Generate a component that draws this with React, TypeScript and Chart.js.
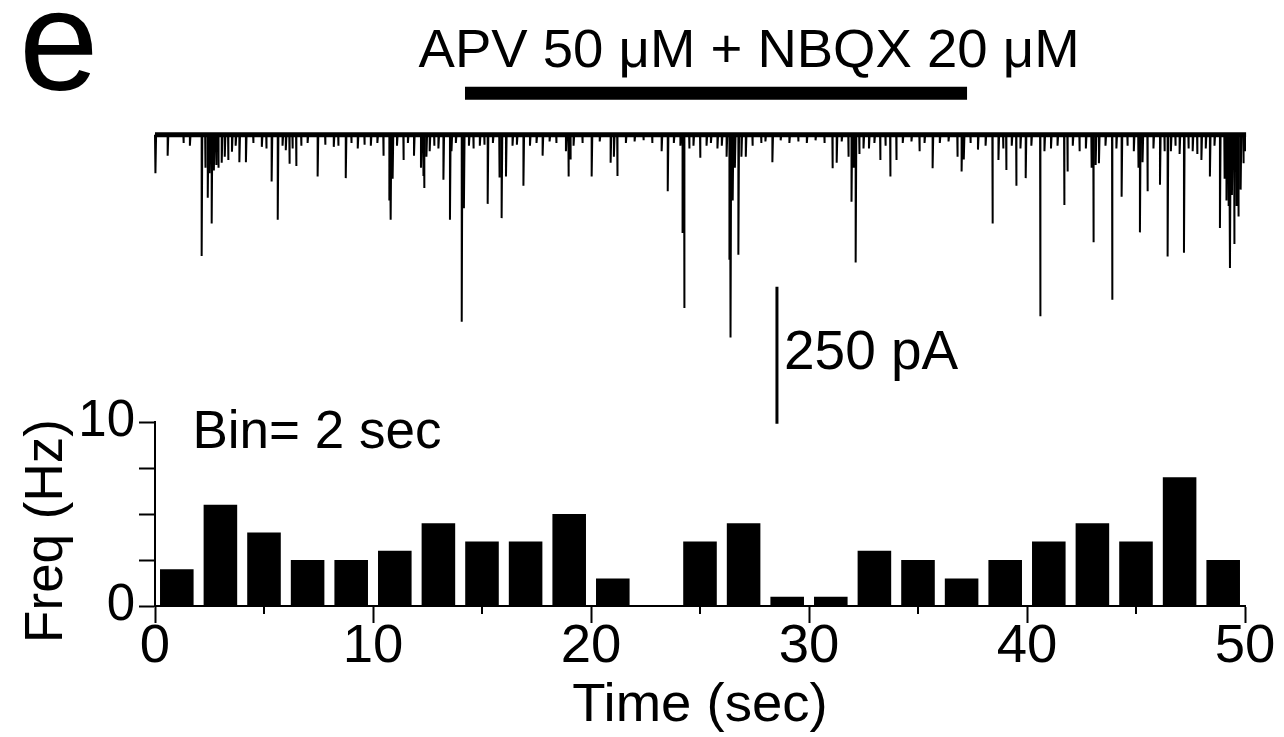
import React, { useEffect, useRef } from 'react';
import { Chart, registerables } from 'chart.js';

Chart.register(...registerables);

const FONT = '"Liberation Sans", Arial, Helvetica, sans-serif';

// ---------- Histogram (Bin = 2 sec) ----------
const BIN_CENTERS = [1, 3, 5, 7, 9, 11, 13, 15, 17, 19, 21, 23, 25, 27, 29, 31, 33, 35, 37, 39, 41, 43, 45, 47, 49];
const FREQ_HZ = [2, 5.5, 4, 2.5, 2.5, 3, 4.5, 3.5, 3.5, 5, 1.5, 0, 3.5, 4.5, 0.5, 0.5, 3, 2.5, 1.5, 2.5, 3.5, 4.5, 3.5, 7, 2.5];

// ---------- Axes ----------
const X_MIN = 0;
const X_MAX = 50;
const X_STEP = 5;
const X_LABELLED = [0, 10, 20, 30, 40, 50];
const X_MINOR_TICKS = [5, 15, 25, 35, 45];
const Y_MIN = 0;
const Y_MAX = 10;
const Y_STEP = 2.5;
const Y_LABELLED = [0, 10];

// ---------- Current trace: synaptic events (time in s, amplitude in pA, inward = down) ----------
const EVENT_TIMES = [
  0.02, 0.58, 1.3, 1.6, 2.14, 2.3, 2.42, 2.5, 2.6, 2.7, 2.8, 2.9, 3.06, 3.2, 3.35, 3.53, 3.7, 3.87, 4.17, 4.5,
  4.9, 5.1, 5.35, 5.63, 5.85, 6.0, 6.16, 6.3, 6.47, 6.7, 7.0, 7.46, 7.8, 8.2, 8.4, 8.75, 9.0, 9.3, 9.6, 9.9,
  10.2, 10.47, 10.75, 10.81, 10.9, 11.1, 11.39, 11.6, 11.88, 12.2, 12.3, 12.34, 12.45, 12.6, 12.8, 13.0, 13.23, 13.53, 13.6, 13.8,
  14.07, 14.17, 14.4, 14.6, 14.9, 15.1, 15.26, 15.5, 15.79, 15.9, 16.1, 16.4, 16.6, 16.9, 17.2, 17.5, 17.78, 18.1, 18.4, 18.85,
  18.96, 19.05, 19.2, 19.6, 20.03, 20.4, 20.9, 21.05, 21.2, 21.6, 22.0, 22.4, 22.8, 23.24, 23.52, 23.8, 24.1, 24.2, 24.27, 24.5,
  24.7, 25.0, 25.3, 25.5, 25.8, 26.0, 26.22, 26.35, 26.4, 26.5, 26.6, 26.76, 26.9, 27.1, 27.4, 27.8, 28.0, 28.32, 28.7, 29.1,
  29.5, 29.9, 30.3, 30.7, 31.07, 31.27, 31.5, 31.8, 31.95, 32.05, 32.14, 32.3, 32.5, 32.75, 33.0, 33.26, 33.5, 33.72, 34.0, 34.3,
  34.7, 35.06, 35.3, 35.67, 36.0, 36.4, 36.8, 37.0, 37.1, 37.4, 37.75, 38.1, 38.41, 38.69, 38.9, 39.04, 39.3, 39.5, 39.7, 39.94,
  40.2, 40.6, 40.8, 41.1, 41.4, 41.7, 41.85, 42.1, 42.4, 42.7, 42.95, 43.04, 43.15, 43.3, 43.6, 43.9, 44.1, 44.34, 44.6, 44.9,
  45.1, 45.18, 45.3, 45.52, 45.8, 46.1, 46.3, 46.45, 46.6, 46.8, 47.0, 47.2, 47.4, 47.6, 47.8, 48.0, 48.2, 48.39, 48.6, 48.85,
  49.05, 49.15, 49.25, 49.31, 49.4, 49.5, 49.6, 49.69, 49.8, 49.92, 50.0,
];
const EVENT_AMPS = [
  70, 38, 15, 20, 221, 60, 115, 70, 162, 65, 55, 60, 51, 40, 46, 31, 20, 50, 50, 15,
  22, 25, 85, 155, 20, 28, 53, 25, 57, 20, 15, 76, 18, 22, 20, 79, 15, 25, 18, 20,
  15, 38, 120, 155, 80, 20, 46, 15, 38, 60, 75, 97, 40, 30, 20, 25, 82, 155, 30, 15,
  341, 134, 20, 25, 20, 18, 126, 15, 78, 152, 76, 20, 18, 93, 20, 15, 38, 12, 15, 30,
  76, 45, 20, 15, 76, 12, 51, 40, 75, 15, 12, 10, 15, 30, 103, 15, 20, 179, 316, 25,
  20, 42, 20, 15, 25, 20, 40, 228, 370, 120, 60, 219, 40, 40, 20, 15, 12, 50, 10, 15,
  12, 15, 10, 15, 61, 51, 12, 40, 122, 60, 233, 35, 25, 25, 15, 46, 20, 76, 46, 15,
  12, 30, 15, 61, 15, 12, 40, 67, 45, 15, 27, 20, 162, 46, 25, 64, 20, 93, 25, 79,
  20, 331, 30, 25, 20, 128, 67, 20, 30, 25, 60, 196, 55, 52, 20, 301, 25, 113, 20, 30,
  60, 178, 50, 103, 25, 91, 30, 222, 30, 20, 35, 215, 25, 30, 35, 46, 25, 76, 20, 170,
  80, 120, 130, 243, 110, 199, 130, 149, 100, 52, 30,
];
const EVENT_DECAY_S = 0.03;
const TRACE_START = 0;
const TRACE_END = 50.05;

// ---------- Annotations ----------
const PANEL_LETTER = 'e';
const DRUG_LABEL = 'APV 50 \u03bcM + NBQX 20 \u03bcM';
const DRUG_START = 14.22;
const DRUG_END = 37.25;
const DRUG_LEVEL = 76; // pA, above baseline
const DRUG_LABEL_T = 27.25;
const DRUG_LABEL_LEVEL = 124;
const SCALE_BAR_T = 28.53;
const SCALE_BAR_TOP = -277;
const SCALE_BAR_PA = 250;
const SCALE_LABEL_LEVEL = -427;
const BIN_LABEL = 'Bin= 2 sec';
const BIN_LABEL_T = 1.72;
const BIN_LABEL_HZ = 8.6;
const X_TITLE = 'Time (sec)';
const Y_TITLE = 'Freq (Hz)';

function buildTrace() {
  const pts: { x: number; y: number }[] = [{ x: TRACE_START, y: 0 }];
  for (let i = 0; i < EVENT_TIMES.length; i++) {
    const t = EVENT_TIMES[i];
    pts.push({ x: t, y: 0 }, { x: t, y: -EVENT_AMPS[i] }, { x: t + EVENT_DECAY_S, y: 0 });
  }
  pts.push({ x: TRACE_END, y: 0 });
  return pts;
}

const textPlugin = {
  id: 'panelText',
  afterDraw(chart: any) {
    const { ctx, scales } = chart;
    const x = scales.x;
    const y = scales.y;
    const yT = scales.yT;
    ctx.save();
    ctx.fillStyle = '#000';
    ctx.strokeStyle = '#000';
    // minor ticks on the time axis
    ctx.lineWidth = 2;
    for (const v of X_MINOR_TICKS) {
      const px = Math.round(x.getPixelForValue(v));
      ctx.beginPath();
      ctx.moveTo(px, x.top);
      ctx.lineTo(px, x.top + 8);
      ctx.stroke();
    }
    // panel letter
    ctx.textBaseline = 'alphabetic';
    ctx.textAlign = 'left';
    ctx.font = `143px ${FONT}`;
    ctx.fillText(PANEL_LETTER, 19, 90);
    // drug label
    ctx.font = `54.5px ${FONT}`;
    ctx.textAlign = 'center';
    ctx.fillText(DRUG_LABEL, x.getPixelForValue(DRUG_LABEL_T), yT.getPixelForValue(DRUG_LABEL_LEVEL));
    // scale bar label
    ctx.textAlign = 'left';
    ctx.font = `55px ${FONT}`;
    ctx.fillText(`${SCALE_BAR_PA} pA`, x.getPixelForValue(SCALE_BAR_T) + 7, yT.getPixelForValue(SCALE_LABEL_LEVEL));
    // bin label
    ctx.font = `53px ${FONT}`;
    ctx.fillText(BIN_LABEL, x.getPixelForValue(BIN_LABEL_T), y.getPixelForValue(BIN_LABEL_HZ));
    // y title
    ctx.translate(47.5, (y.top + y.bottom) / 2 + 17);
    ctx.rotate(-Math.PI / 2);
    ctx.textAlign = 'center';
    ctx.textBaseline = 'middle';
    ctx.font = `53px ${FONT}`;
    ctx.fillText(Y_TITLE, 0, 0);
    ctx.restore();
  },
};

export default function App() {
  const ref = useRef<HTMLCanvasElement | null>(null);

  useEffect(() => {
    if (!ref.current) return;
    Chart.defaults.font.family = FONT;
    Chart.defaults.color = '#000';

    const chart = new Chart(ref.current, {
      type: 'bar',
      data: {
        datasets: [
          {
            type: 'bar',
            label: 'Freq',
            data: BIN_CENTERS.map((c, i) => ({ x: c, y: FREQ_HZ[i] })),
            backgroundColor: '#000',
            borderWidth: 0,
            categoryPercentage: 0.77,
            barPercentage: 1,
            xAxisID: 'x',
            yAxisID: 'y',
          } as any,
          {
            type: 'line',
            label: 'trace',
            data: buildTrace(),
            borderColor: '#000',
            borderWidth: 2,
            borderJoinStyle: 'bevel',
            pointRadius: 0,
            tension: 0,
            fill: false,
            clip: false,
            xAxisID: 'x',
            yAxisID: 'yT',
          } as any,
          {
            type: 'line',
            label: 'baseline',
            data: [{ x: TRACE_START, y: 0 }, { x: TRACE_END, y: 0 }],
            borderColor: '#000',
            borderWidth: 5,
            pointRadius: 0,
            fill: false,
            clip: false,
            xAxisID: 'x',
            yAxisID: 'yT',
          } as any,
          {
            type: 'line',
            label: 'drug',
            data: [{ x: DRUG_START, y: DRUG_LEVEL }, { x: DRUG_END, y: DRUG_LEVEL }],
            borderColor: '#000',
            borderWidth: 13,
            borderCapStyle: 'butt',
            pointRadius: 0,
            fill: false,
            clip: false,
            xAxisID: 'x',
            yAxisID: 'yT',
          } as any,
          {
            type: 'line',
            label: 'scale',
            data: [{ x: SCALE_BAR_T, y: SCALE_BAR_TOP }, { x: SCALE_BAR_T, y: SCALE_BAR_TOP - SCALE_BAR_PA }],
            borderColor: '#000',
            borderWidth: 3,
            borderCapStyle: 'butt',
            pointRadius: 0,
            fill: false,
            clip: false,
            xAxisID: 'x',
            yAxisID: 'yT',
          } as any,
        ],
      },
      options: {
        responsive: false,
        maintainAspectRatio: false,
        devicePixelRatio: 1,
        animation: false,
        events: [],
        layout: { padding: { top: 40, left: 0, right: 39, bottom: 0 } },
        plugins: { legend: { display: false }, tooltip: { enabled: false }, title: { display: false } },
        scales: {
          x: {
            type: 'linear',
            position: 'bottom',
            min: X_MIN,
            max: X_MAX,
            offset: false,
            afterFit: (s: any) => {
              s.height = 131;
            },
            grid: {
              offset: false,
              drawOnChartArea: false,
              drawTicks: true,
              tickLength: 17,
              tickWidth: 2,
              tickColor: (c: any) => (c.tick && X_LABELLED.includes(c.tick.value) ? '#000' : 'rgba(0,0,0,0)'),
            },
            border: { display: true, color: '#000', width: 2 },
            ticks: {
              stepSize: X_STEP,
              autoSkip: false,
              maxRotation: 0,
              minRotation: 0,
              padding: 2,
              color: '#000',
              font: { size: 54.5, family: FONT, lineHeight: 0.8 },
              callback: (v: any) => (X_LABELLED.includes(Number(v)) ? String(v) : ''),
            },
            title: {
              display: true,
              text: X_TITLE,
              color: '#000',
              font: { size: 54.5, family: FONT, lineHeight: 1 },
              padding: { top: 0, bottom: 4 },
            },
          },
          y: {
            type: 'linear',
            position: 'left',
            stack: 'panel',
            stackWeight: 184,
            min: Y_MIN,
            max: Y_MAX,
            afterFit: (s: any) => {
              s.width = 155;
            },
            grid: {
              drawOnChartArea: false,
              drawTicks: true,
              tickLength: 16,
              tickWidth: 2,
              tickColor: '#000',
            },
            border: { display: true, color: '#000', width: 2 },
            ticks: {
              stepSize: Y_STEP,
              autoSkip: false,
              padding: 4,
              color: '#000',
              font: { size: 51, family: FONT, lineHeight: 1 },
              callback: (v: any) => (Y_LABELLED.includes(Number(v)) ? String(v) : ''),
            },
          },
          yT: {
            type: 'linear',
            position: 'left',
            stack: 'panel',
            stackWeight: 382,
            display: false,
            min: -524,
            max: 173,
          },
        },
      } as any,
      plugins: [textPlugin],
    });
    return () => chart.destroy();
  }, []);

  return (
    <div style={{ position: 'absolute', left: 0, top: 0, width: 1284, height: 737, background: '#fff' }}>
      <canvas ref={ref} width={1284} height={737} style={{ display: 'block', width: 1284, height: 737 }} />
    </div>
  );
}
